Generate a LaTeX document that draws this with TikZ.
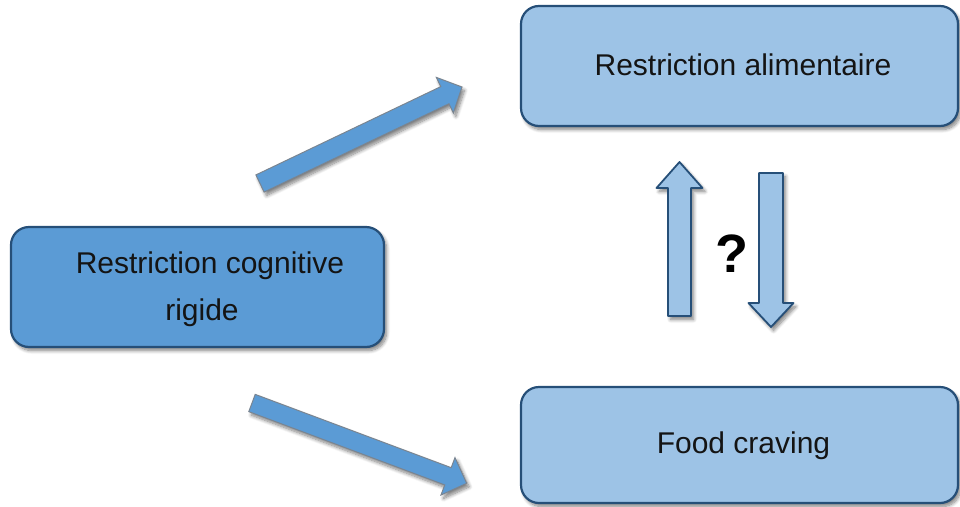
\documentclass[tikz,border=0pt]{standalone}
\usepackage{fontspec}
\setmainfont{Liberation Sans}
\usetikzlibrary{calc,shadows.blur}

\definecolor{deepblue}{HTML}{5B9BD5}
\definecolor{paleblue}{HTML}{9DC3E6}
\definecolor{rimblue}{HTML}{264F78}
\definecolor{rimgray}{HTML}{7A8591}
\definecolor{ink}{HTML}{141414}

\tikzset{
  softshadow/.style={blur shadow={shadow xshift=2.5pt, shadow yshift=-3.5pt,
      shadow blur radius=3.5pt, shadow blur steps=8, shadow opacity=50}},
  box/.style={draw=rimblue, line width=2.2pt, rounded corners=18pt,
      softshadow, inner sep=0pt},
  lightbox/.style={box, fill=paleblue},
  darkbox/.style={box, fill=deepblue},
  boxtext/.style={text=ink, font=\fontsize{30}{36}\selectfont,
      inner sep=0pt, anchor=base},
  diagarrow/.style={fill=deepblue, draw=rimgray, line width=1pt,
      line join=miter, softshadow},
  vertarrow/.style={fill=paleblue, draw=rimblue, line width=1.8pt,
      line join=round, softshadow},
}

% Block arrow: #1 style, #2 tail, #3 tip, #4 shaft half width,
% #5 head half width, #6 head length
\newcommand\blockarrow[6]{%
  \coordinate (#2-neck) at ($(#3)!#6!(#2)$);
  \path[#1]
    ($(#2)!#4!90:(#3)$) --
    ($(#2-neck)!#4!90:(#3)$) --
    ($(#2-neck)!#5!90:(#3)$) --
    (#3) --
    ($(#2-neck)!#5!-90:(#3)$) --
    ($(#2-neck)!#4!-90:(#3)$) --
    ($(#2)!#4!-90:(#3)$) -- cycle;
}

\begin{document}
\begin{tikzpicture}[x=1pt, y=-1pt]
  \useasboundingbox (0,0) rectangle (960,506);

  % boxes
  \node[lightbox, minimum width=437pt, minimum height=120pt] (diet) at (739.5,66) {};
  \node[lightbox, minimum width=437pt, minimum height=116pt] (craving) at (739.5,445) {};
  \node[darkbox, minimum width=373pt, minimum height=120pt] (rigid) at (197.5,287) {};

  % box texts
  \node[boxtext] (dietText) at (743,75) {Restriction alimentaire};
  \node[boxtext] (cravingText) at (743.5,453) {Food craving};
  \node[boxtext] (rigidTextA) at (210,273) {Restriction cognitive};
  \node[boxtext] (rigidTextB) at (202,320) {rigide};

  % arrow end points
  \coordinate (upTail) at (260,183.5);
  \coordinate (upTip) at (462,87);
  \coordinate (downTail) at (252,403);
  \coordinate (downTip) at (466.7,483.3);
  \coordinate (riseTail) at (679.5,316);
  \coordinate (riseTip) at (679.5,162);
  \coordinate (fallTail) at (771,173);
  \coordinate (fallTip) at (771,327);

  % block arrows
  \blockarrow{diagarrow}{upTail}{upTip}{9.5pt}{19.7pt}{19pt}
  \blockarrow{diagarrow}{downTail}{downTip}{9.2pt}{20pt}{20pt}
  \blockarrow{vertarrow}{riseTail}{riseTip}{11.5pt}{23pt}{26pt}
  \blockarrow{vertarrow}{fallTail}{fallTip}{12pt}{22.5pt}{24pt}

  % question mark between the vertical arrows
  \node[text=black, font=\fontsize{54}{60}\selectfont\bfseries,
        inner sep=0pt, anchor=base] (query) at (732,272) {?};
\end{tikzpicture}
\end{document}
